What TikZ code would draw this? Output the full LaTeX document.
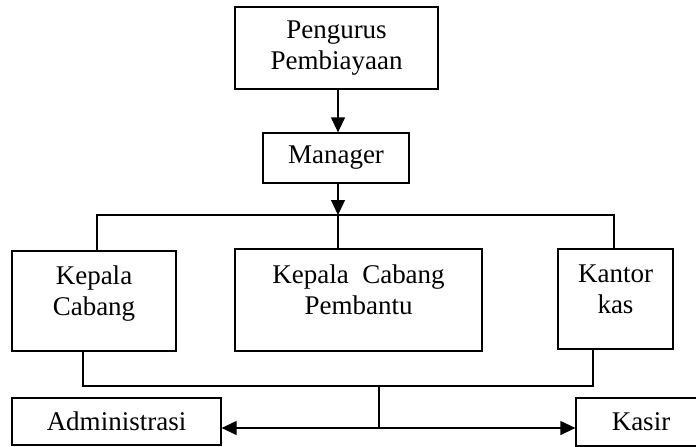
\documentclass[tikz,border=0pt]{standalone}
\usepackage{fontspec}
\setmainfont{Liberation Serif}
\usetikzlibrary{arrows.meta}

\begin{document}
\begin{tikzpicture}[x=1pt, y=-1pt,
  box/.style={draw, line width=1.3pt, align=center, inner sep=0pt,
    font=\fontsize{27}{31}\selectfont},
  link/.style={line width=1.3pt},
  arr/.style={link, -{Triangle[length=15pt, width=14pt]}}]

  \useasboundingbox (0,0) rectangle (696,447);
  \clip (0,0) rectangle (696,447);

  % boxes
  \node[box, minimum width=203pt, minimum height=82pt] (pp) at (336.5,48) {Pengurus\\Pembiayaan};
  \node[box, minimum width=146pt, minimum height=50pt] (mgr) at (336,158) {Manager};
  \node[box, minimum width=164pt, minimum height=100pt, text depth=20pt] (kc) at (94,301) {Kepala\\Cabang};
  \node[box, minimum width=247pt, minimum height=102pt, text depth=20pt] (kcp) at (358.5,300) {Kepala\ \ Cabang\\Pembantu};
  \node[box, minimum width=115pt, minimum height=100pt, text depth=20pt] (kk) at (615.5,299) {Kantor\\kas};
  \node[box, minimum width=209pt, minimum height=47pt] (adm) at (116.5,421.5) {Administrasi};
  \node[box, minimum width=130pt, minimum height=48pt] (ksr) at (641,422) {Kasir};

  % junction points
  \coordinate (jt) at (338,215);
  \coordinate (tl) at (97,215);
  \coordinate (tr) at (614,215);
  \coordinate (bl) at (83,386);
  \coordinate (br) at (593,386);
  \coordinate (bm) at (379,386);
  \coordinate (ba) at (379,428);

  % top chain
  \draw[arr] (pp.south -| jt) -- (mgr.north -| jt);
  \draw[arr] (mgr.south -| jt) -- (jt);

  % distribution line to the three branches
  \draw[link] (kc.north -| tl) -- (tl) -- (tr) -- (kk.north -| tr);
  \draw[link] (jt) -- (kcp.north -| jt);

  % collecting line below the branches
  \draw[link] (kc.south -| bl) -- (bl) -- (br) -- (kk.south -| br);
  \draw[link] (bm) -- (ba);
  \draw[arr] (ba) -- (adm.east |- ba);
  \draw[arr] (ba) -- (ksr.west |- ba);
\end{tikzpicture}
\end{document}
